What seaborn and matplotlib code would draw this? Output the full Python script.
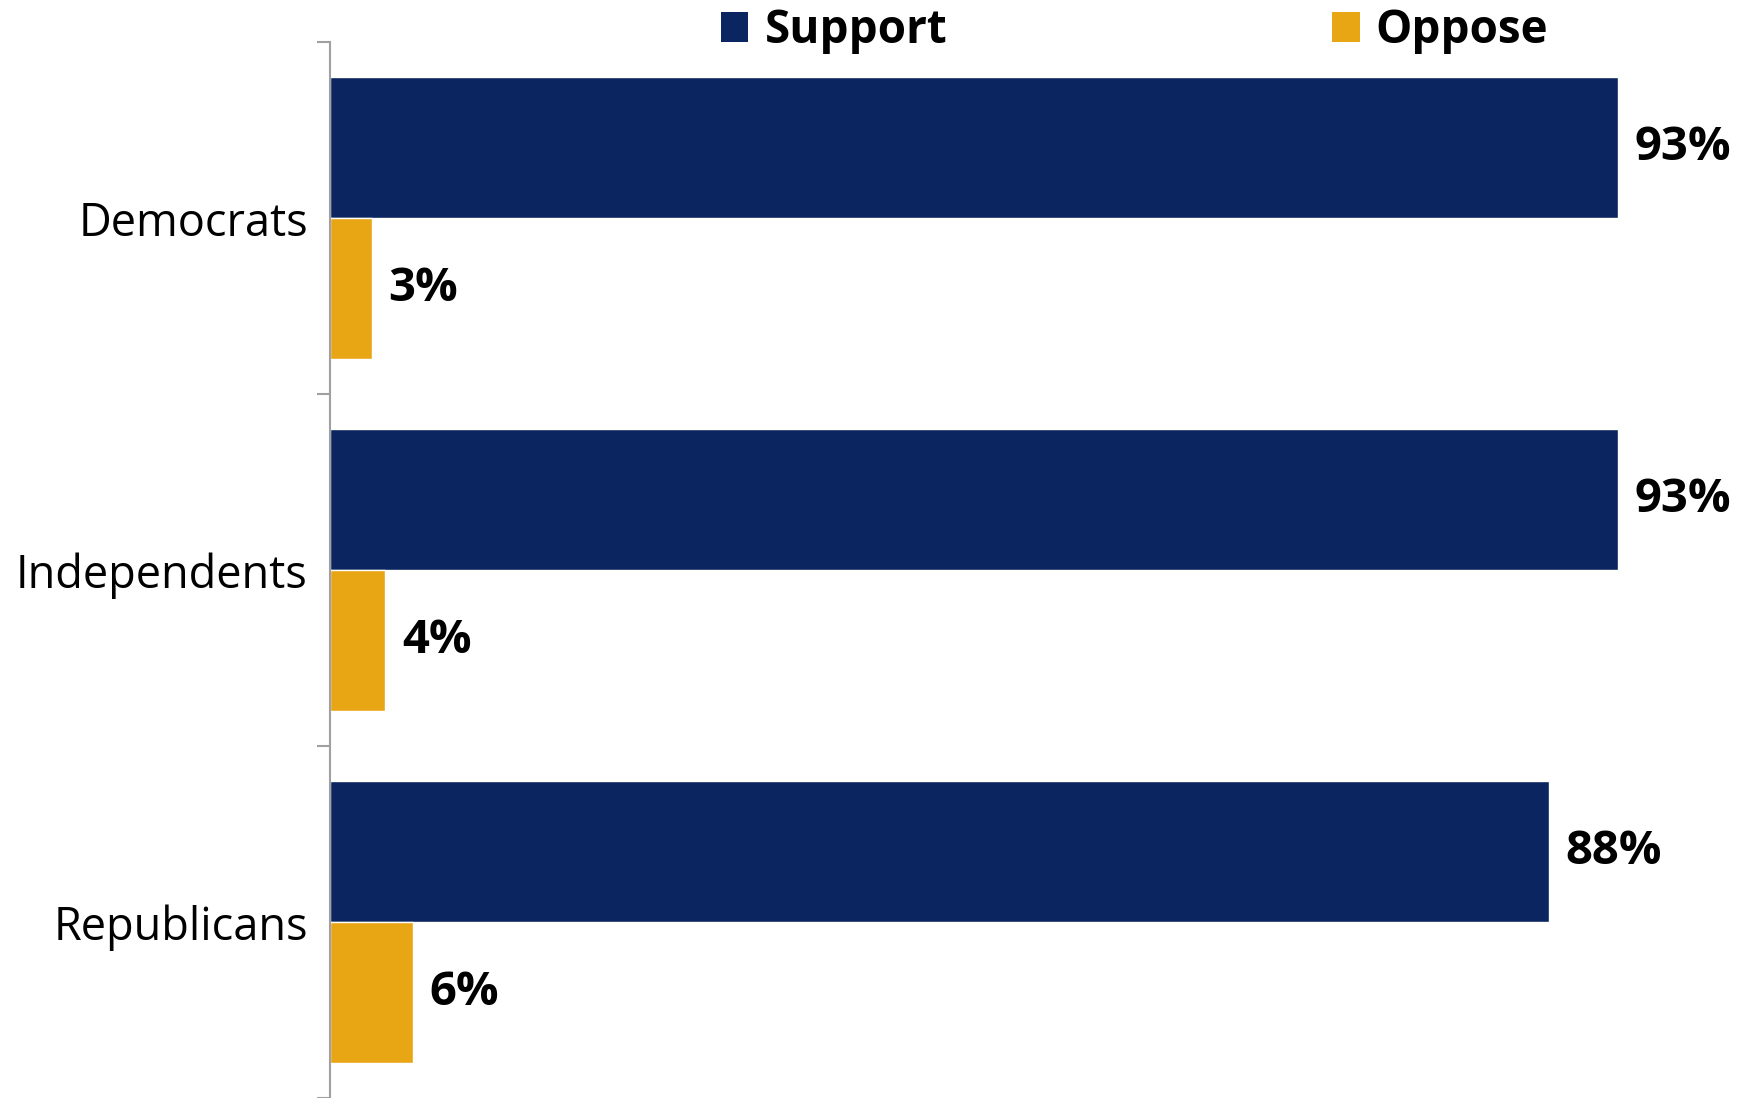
import matplotlib
matplotlib.use("Agg")
import matplotlib.pyplot as plt
import seaborn as sns
import pandas as pd
from matplotlib.patches import Patch

categories = ["Democrats", "Independents", "Republicans"]
series = ["Support", "Oppose"]
support = [93, 93, 88]
oppose = [3, 4, 6]
colors = ["#0A2560", "#E8A614"]

df = pd.DataFrame({
    "group": categories * 2,
    "series": [series[0]] * 3 + [series[1]] * 3,
    "value": support + oppose,
})

sns.set_theme(style="white")
plt.rcParams["font.family"] = ["Open Sans", "DejaVu Sans"]
plt.rcParams["text.color"] = "black"
plt.rcParams["ytick.labelcolor"] = "black"

fig = plt.figure(figsize=(17.47, 10.98), dpi=100)
ax = fig.add_axes([330 / 1747, 0, (1715 - 330) / 1747, 1 - 42 / 1098])

sns.barplot(data=df, y="group", x="value", hue="series", order=categories,
            hue_order=series, palette=colors, orient="h", width=0.8,
            saturation=1, ax=ax, legend=False)

for cont in ax.containers:
    ax.bar_label(cont, fmt="%d%%", padding=12, fontsize=34, fontweight="bold",
                 color="black")

ax.set_xlim(0, 100)
ax.set_ylim(len(categories) - 0.5, -0.5)
ax.set_xlabel("")
ax.set_ylabel("")
ax.set_xticks([])

for s in ["top", "right", "bottom"]:
    ax.spines[s].set_visible(False)
ax.spines["left"].set_color("#A0A0A0")
ax.spines["left"].set_linewidth(1.5)

ax.set_yticks([i - 0.5 for i in range(len(categories) + 1)])
ax.set_yticklabels([])
ax.tick_params(axis="y", which="major", length=9.5, width=1.5, color="#A0A0A0",
               direction="out", left=True)
ax.set_yticks(list(range(len(categories))), minor=True)
ax.set_yticklabels(categories, minor=True, fontsize=32.5, color="black")
ax.tick_params(axis="y", which="minor", length=0, pad=16, left=True,
               labelcolor="black")

handles = [Patch(facecolor=c, edgecolor="none") for c in colors]
leg = fig.legend(handles, series, loc="upper left", bbox_to_anchor=(714 / 1747, 1.0),
                 ncol=2, frameon=False, prop={"size": 33, "weight": "bold"},
                 handlelength=0.6, handleheight=0.63, handletextpad=0.35,
                 columnspacing=8.4, borderpad=0.15, borderaxespad=0,
                 labelcolor="black")

fig.savefig("out.png", dpi=100)
